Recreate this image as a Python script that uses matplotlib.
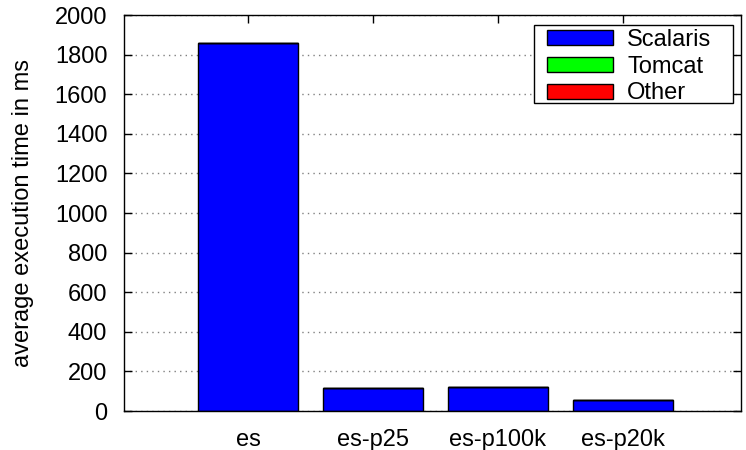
import matplotlib
matplotlib.use("Agg")
import matplotlib.pyplot as plt
from matplotlib.patches import Rectangle
import numpy as np

categories = ["es", "es-p25", "es-p100k", "es-p20k"]
scalaris = [1858, 116, 123, 55]
tomcat = [0, 0, 0, 0]
other = [0, 0, 0, 0]
yticks = [0, 200, 400, 600, 800, 1000, 1200, 1400, 1600, 1800, 2000]

plt.rcParams['font.family'] = ['Liberation Sans', 'DejaVu Sans']
fig = plt.figure(figsize=(7.46, 4.5), dpi=100)
ax = fig.add_axes([124/746, 39/450, 617/746, 396/450])

x = np.arange(len(categories))
w = 0.8
b1 = np.array(scalaris)
b2 = b1 + np.array(tomcat)
ax.bar(x, scalaris, w, color='#0000ff', edgecolor='black', linewidth=1, label='Scalaris', zorder=3)
ax.bar(x, tomcat, w, bottom=b1, color='#00ff00', edgecolor='black', linewidth=1, label='Tomcat', zorder=3)
ax.bar(x, other, w, bottom=b2, color='#ff0000', edgecolor='black', linewidth=1, label='Other', zorder=3)

ax.set_xlim(-0.992, 3.944)
ax.set_ylim(0, 2000)
ax.set_yticks(yticks)
ax.set_xticks(x)
ax.set_xticklabels(categories)
ax.tick_params(axis='both', direction='in', length=6, width=1, labelsize=17,
               top=True, right=True)
ax.tick_params(axis='y', pad=12)
ax.tick_params(axis='x', pad=13)
ax.grid(axis='y', linestyle=(0, (1, 3)), color='#808080', linewidth=1, zorder=0)
ax.set_ylabel('average execution time in ms', fontsize=17, labelpad=15)
for s in ax.spines.values():
    s.set_linewidth(1)
    s.set_zorder(5)

# legend frame (gnuplot-style key box)
ax.add_patch(Rectangle((410/617, 308/396), 199/617, 78/396, transform=ax.transAxes,
                       facecolor='white', edgecolor='black', linewidth=1, zorder=6))
leg = ax.legend(loc='upper left', fontsize=17, frameon=False,
                handlelength=2.8, handleheight=0.6,
                borderpad=0, labelspacing=0.2, handletextpad=0.6,
                borderaxespad=0, bbox_to_anchor=(423/617, 382/396))
leg.set_zorder(7)

fig.savefig('out.png', dpi=100)
